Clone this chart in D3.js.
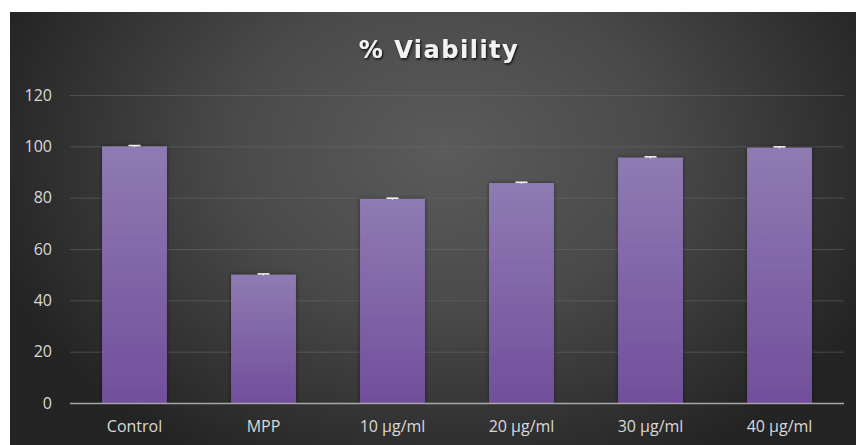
<!DOCTYPE html>
<html>
<head>
<meta charset="utf-8">
<script src="https://cdn.jsdelivr.net/npm/d3@7"></script>
<style>
  html, body { margin: 0; padding: 0; background: #ffffff; }
  svg { display: block; }
</style>
</head>
<body>
<div id="chart"></div>
<script>
// % viability per treatment group
const categories = ["Control", "MPP", "10 μg/ml", "20 μg/ml", "30 μg/ml", "40 μg/ml"];
const viability = [100, 50, 79.5, 85.7, 95.6, 99.5];
const errors = [0.3, 0.3, 0.3, 0.3, 0.3, 0.3];
const yTicks = [0, 20, 40, 60, 80, 100, 120];

const W = 856, H = 445;
const margin = { left: 70, right: 12, top: 95, bottom: 42 };

const svg = d3.select("#chart").append("svg")
  .attr("width", W).attr("height", H);

const defs = svg.append("defs");

const bg = defs.append("radialGradient")
  .attr("id", "bgGrad")
  .attr("gradientUnits", "userSpaceOnUse")
  .attr("cx", 445).attr("cy", 150).attr("r", 470)
  .attr("gradientTransform", "translate(445,150) scale(1,0.75) translate(-445,-150)");
bg.append("stop").attr("offset", "0%").attr("stop-color", "#5b5b5b");
bg.append("stop").attr("offset", "45%").attr("stop-color", "#4a4a4a");
bg.append("stop").attr("offset", "100%").attr("stop-color", "#242424");

const barGrad = defs.append("linearGradient")
  .attr("id", "barGrad")
  .attr("x1", 0).attr("y1", 0).attr("x2", 0).attr("y2", 1);
barGrad.append("stop").attr("offset", "0%").attr("stop-color", "#8f7bb2");
barGrad.append("stop").attr("offset", "100%").attr("stop-color", "#714f9b");

const shadow = defs.append("filter").attr("id", "barShadow")
  .attr("x", "-20%").attr("y", "-10%").attr("width", "140%").attr("height", "120%");
shadow.append("feDropShadow").attr("dx", 0).attr("dy", 0)
  .attr("stdDeviation", 2).attr("flood-color", "#000").attr("flood-opacity", 0.45);

const titleShadow = defs.append("filter").attr("id", "titleShadow")
  .attr("x", "-10%").attr("y", "-30%").attr("width", "120%").attr("height", "160%");
titleShadow.append("feDropShadow").attr("dx", 1).attr("dy", 1.5)
  .attr("stdDeviation", 1.3).attr("flood-color", "#000").attr("flood-opacity", 0.85);

// chart area background
svg.append("rect")
  .attr("x", 10).attr("y", 12)
  .attr("width", W - 10).attr("height", H - 12)
  .attr("fill", "url(#bgGrad)");

const x = d3.scaleBand()
  .domain(categories)
  .range([margin.left, W - margin.right])
  .paddingInner(0.497)
  .paddingOuter(0.2485);

const y = d3.scaleLinear()
  .domain([0, 120])
  .range([H - margin.bottom, margin.top]);

// horizontal gridlines
const grid = svg.append("g")
  .attr("transform", `translate(${margin.left},0)`)
  .call(d3.axisLeft(y).tickValues(yTicks.filter(t => t > 0))
    .tickSize(-(W - margin.left - margin.right)).tickFormat(""));
grid.select(".domain").remove();
grid.selectAll("line").attr("stroke", "#6a6a6a").attr("stroke-opacity", 0.55).attr("stroke-width", 1);

// y axis labels
const yAxis = svg.append("g")
  .attr("transform", `translate(${margin.left},0)`)
  .call(d3.axisLeft(y).tickValues(yTicks).tickSize(0).tickPadding(18));
yAxis.select(".domain").remove();
yAxis.selectAll("text")
  .attr("fill", "#d9d9d9")
  .style("font-family", "'Open Sans', sans-serif")
  .style("font-size", "16px");

// bars
svg.append("g").selectAll("rect")
  .data(categories)
  .join("rect")
  .attr("x", d => x(d))
  .attr("y", (d, i) => y(viability[i]))
  .attr("width", x.bandwidth())
  .attr("height", (d, i) => y(0) - y(viability[i]))
  .attr("fill", "url(#barGrad)")
  .attr("filter", "url(#barShadow)");

// error bars
const eb = svg.append("g");
categories.forEach((c, i) => {
  const cx = x(c) + x.bandwidth() / 2;
  const top = y(viability[i] + errors[i]);
  const bot = y(viability[i] - errors[i]);
  eb.append("line").attr("x1", cx).attr("x2", cx).attr("y1", top).attr("y2", bot)
    .attr("stroke", "#f2f2f2").attr("stroke-width", 1);
  eb.append("line").attr("x1", cx - 6).attr("x2", cx + 6).attr("y1", top).attr("y2", top)
    .attr("stroke", "#f2f2f2").attr("stroke-width", 1.6);
});

// x axis
const xAxis = svg.append("g")
  .attr("transform", `translate(0,${y(0)})`)
  .call(d3.axisBottom(x).tickSize(0).tickPadding(18));
xAxis.select(".domain")
  .attr("stroke", "#a6a6a6").attr("stroke-width", 1.3)
  .attr("d", `M${margin.left},0.5H${W - margin.right}`);
xAxis.selectAll("text")
  .attr("fill", "#d9d9d9")
  .style("font-family", "'Open Sans', sans-serif")
  .style("font-size", "16px");

// title
svg.append("text")
  .attr("x", 439).attr("y", 58)
  .attr("text-anchor", "middle")
  .attr("fill", "#f2f2f2")
  .attr("filter", "url(#titleShadow)")
  .style("font-family", "'DejaVu Sans', sans-serif")
  .style("font-weight", "bold")
  .style("font-size", "24px")
  .style("letter-spacing", "1.5px")
  .text("% Viability");
</script>
</body>
</html>
